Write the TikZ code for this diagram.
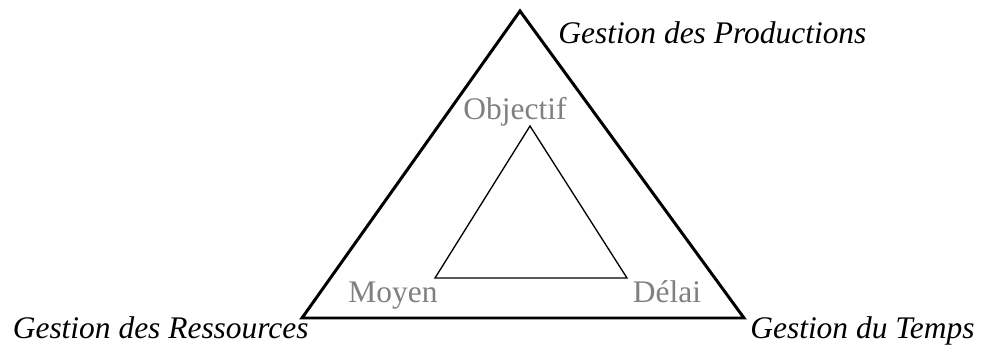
\documentclass[tikz,border=0pt]{standalone}
\usepackage{fontspec}
\setmainfont{Liberation Serif}
\usepackage{xcolor}
\usepackage{tikz}
\usetikzlibrary{positioning, calc}
\definecolor{labelgray}{RGB}{128, 128, 128}

\begin{document}
\begin{tikzpicture}[x=0.02cm, y=-0.02cm,
    every node/.style={inner sep=0pt, font=\fontsize{17.9}{20}\selectfont},
    outerline/.style={line width=1.7pt, line join=miter},
    innerline/.style={line width=0.75pt, line join=miter},
    gestion/.style={font=\fontsize{17.9}{20}\selectfont\itshape},
    pole/.style={text=labelgray}]
    \useasboundingbox (0,0) rectangle (981,345);
    % outer triangle
    \coordinate (prod) at (520,11);
    \coordinate (res) at (302,318);
    \coordinate (temps) at (744,318);
    \draw[outerline] (prod) -- (res) -- (temps) -- cycle;
    % inner triangle
    \coordinate (obj) at (530,126);
    \coordinate (moy) at (435,278);
    \coordinate (del) at (627,278);
    \draw[innerline] (obj) -- (moy) -- (del) -- cycle;

    % labels of the outer corners
    \node[gestion, anchor=base west] (gprod) at (558,43) {Gestion des Productions};
    \node[gestion, anchor=base east] (gres) at (309,338) {Gestion des Ressources};
    \node[gestion, anchor=base west] (gtemps) at (750,338) {Gestion du Temps};

    % labels of the inner corners
    \node[pole, anchor=base] (lobj) at (515,119) {Objectif};
    \node[pole, anchor=base] (lmoy) at (393,302) {Moyen};
    \node[pole, anchor=base] (ldel) at (667,302) {Délai};
\end{tikzpicture}
\end{document}
